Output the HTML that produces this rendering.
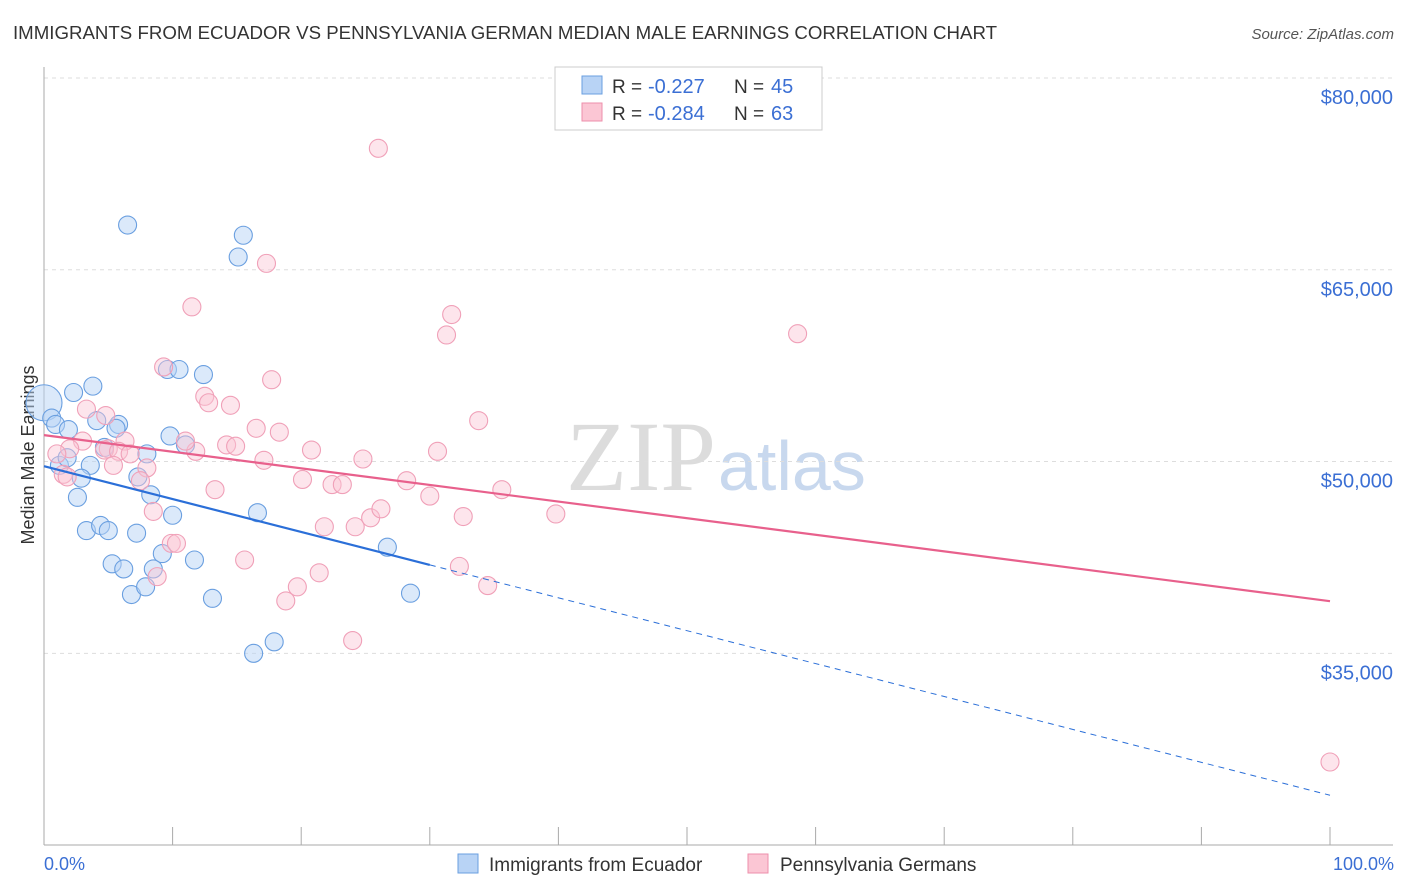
<!DOCTYPE html>
<html><head><meta charset="utf-8"><style>
body{margin:0;background:#fff;font-family:"Liberation Sans",sans-serif;}
svg{display:block}
</style></head><body>
<svg id="chart" width="1406" height="892" xmlns="http://www.w3.org/2000/svg">
<text x="13" y="39" font-size="18" fill="#333" textLength="984" lengthAdjust="spacingAndGlyphs">IMMIGRANTS FROM ECUADOR VS PENNSYLVANIA GERMAN MEDIAN MALE EARNINGS CORRELATION CHART</text>
<text x="1394" y="39" font-size="15" fill="#555" text-anchor="end" font-style="italic">Source: ZipAtlas.com</text>
<text x="716" y="490" font-size="100" fill="#dcdcdc" text-anchor="end" font-family="Liberation Serif, serif">ZIP</text>
<text x="718" y="490" font-size="70" fill="#c8d8ee">atlas</text>
<text transform="translate(34,455) rotate(-90)" font-size="18" fill="#333" text-anchor="middle">Median Male Earnings</text>
<g id="grid"></g><g id="pts"></g><g id="lines"></g>
<g>
<rect x="555" y="67" width="267" height="63" fill="#fff" stroke="#ccc"/>
<rect x="582" y="76" width="20" height="18" fill="#b8d3f5" stroke="#6a9fe0"/>
<rect x="582" y="103" width="20" height="18" fill="#fbc6d4" stroke="#ee8fab"/>
<text x="612" y="93" font-size="19" fill="#333">R =</text><text x="648" y="93" font-size="20" fill="#3b6fd4">-0.227</text>
<text x="734" y="93" font-size="19" fill="#333">N =</text><text x="771" y="93" font-size="20" fill="#3b6fd4">45</text>
<text x="612" y="120" font-size="19" fill="#333">R =</text><text x="648" y="120" font-size="20" fill="#3b6fd4">-0.284</text>
<text x="734" y="120" font-size="19" fill="#333">N =</text><text x="771" y="120" font-size="20" fill="#3b6fd4">63</text>
</g>
<g>
<rect x="458" y="854" width="20" height="19" fill="#b8d3f5" stroke="#6a9fe0"/>
<text x="489" y="871" font-size="19" fill="#333">Immigrants from Ecuador</text>
<rect x="748" y="854" width="20" height="19" fill="#fbc6d4" stroke="#ee8fab"/>
<text x="780" y="871" font-size="19" fill="#333">Pennsylvania Germans</text>
</g>
<text x="44" y="870" font-size="18" fill="#3b6fd4">0.0%</text>
<text x="1394" y="870" font-size="18" fill="#3b6fd4" text-anchor="end">100.0%</text>
</svg>
<script>
const yTicks=[80000,65000,50000,35000];
const yTickLabels=["$80,000","$65,000","$50,000","$35,000"];
const xTicks=[0,10,20,30,40,50,60,70,80,90,100];
const blueX=[0,0.6,0.9,2.3,3.8,1.9,4.1,5.8,5.6,4.7,1.2,1.8,3.6,2.9,2.6,3.3,4.4,5.0,7.2,5.3,6.2,6.8,7.9,8.5,9.2,11.7,13.1,7.3,8.3,8.0,9.8,11.0,9.6,10.5,12.4,10.0,16.6,26.7,28.5,6.5,15.5,15.1,16.3,17.9];
const blueY=[54600,53400,52900,55400,55900,52500,53200,52900,52600,51100,49700,50300,49700,48700,47200,44600,45000,44600,44400,42000,41600,39600,40200,41600,42800,42300,39300,48800,47400,50600,52000,51300,57200,57200,56800,45800,46000,43300,39700,68500,67700,66000,35000,35900];
const pinkX=[26.0,17.3,11.5,31.7,31.3,58.6,9.3,17.7,12.5,12.8,14.5,3.3,4.8,33.8,6.3,5.0,3.0,2.0,1.0,1.5,1.8,4.7,5.8,6.7,5.4,8.0,7.5,11.8,11.0,14.2,14.9,16.5,18.3,17.1,20.8,24.8,30.6,20.1,22.4,23.2,28.2,30.0,35.6,13.3,8.5,21.8,24.2,25.4,26.2,32.6,39.8,9.9,10.3,15.6,8.8,21.4,19.7,18.8,24.0,32.3,34.5,100];
const pinkY=[74500,65500,62100,61500,59900,60000,57400,56400,55100,54600,54400,54100,53600,53200,51600,51000,51600,51000,50600,49000,48800,50900,50800,50600,49700,49500,48500,50800,51600,51300,51200,52600,52300,50100,50900,50200,50800,48600,48200,48200,48500,47300,47800,47800,46100,44900,44900,45600,46300,45700,45900,43600,43600,42300,41000,41300,40200,39100,36000,41800,40300,26500];
const blueLine=[49640,23900];
const pinkLine=[52066,39077];
const ns="http://www.w3.org/2000/svg";
const X=p=>44+p*12.86, Y=v=>78+(80000-v)*0.012785;
function mk(t,a,par){const e=document.createElementNS(ns,t);for(const k in a)e.setAttribute(k,a[k]);document.getElementById(par).appendChild(e);return e;}
yTicks.forEach((v,i)=>{
 const l=mk('line',{x1:44,x2:1393,y1:Y(v),y2:Y(v),stroke:'#ddd','stroke-dasharray':'4,4'},'grid');
 
 
 const t=mk('text',{x:1393,y:Y(v)+26,'font-size':20,fill:'#3b6fd4','text-anchor':'end'},'grid');
 t.textContent=yTickLabels[i];
 
 
});
mk('line',{x1:44,x2:44,y1:67,y2:845,stroke:'#aaa'},'grid');
mk('line',{x1:44,x2:1393,y1:845,y2:845,stroke:'#aaa'},'grid');
xTicks.forEach(p=>{const t=mk('line',{x1:X(p),x2:X(p),y1:827,y2:845,stroke:'#aaa'},'grid');
 
 });
blueX.forEach((p,i)=>{const c=mk('circle',{cx:X(p),cy:Y(blueY[i]),r:i==0?18:9,fill:'#b8d3f5','fill-opacity':0.5,stroke:'#6a9fe0','stroke-width':1.1},'pts');
 
 });
pinkX.forEach((p,i)=>{const c=mk('circle',{cx:X(p),cy:Y(pinkY[i]),r:9,fill:'#fbc6d4','fill-opacity':0.45,stroke:'#f0a0b8','stroke-width':1.1},'pts');
 
 });
const bAt=p=>blueLine[0]+(blueLine[1]-blueLine[0])*p/100;
const a=mk('line',{x1:X(0),y1:Y(bAt(0)),x2:X(30),y2:Y(bAt(30)),stroke:'#2b6fd8','stroke-width':2.2},'lines');


const b=mk('line',{x1:X(30),y1:Y(bAt(30)),x2:X(100),y2:Y(bAt(100)),stroke:'#2b6fd8','stroke-width':1,'stroke-dasharray':'6,5'},'lines');


const c=mk('line',{x1:X(0),y1:Y(pinkLine[0]),x2:X(100),y2:Y(pinkLine[1]),stroke:'#e8608c','stroke-width':2.2},'lines');


</script>
</body></html>
